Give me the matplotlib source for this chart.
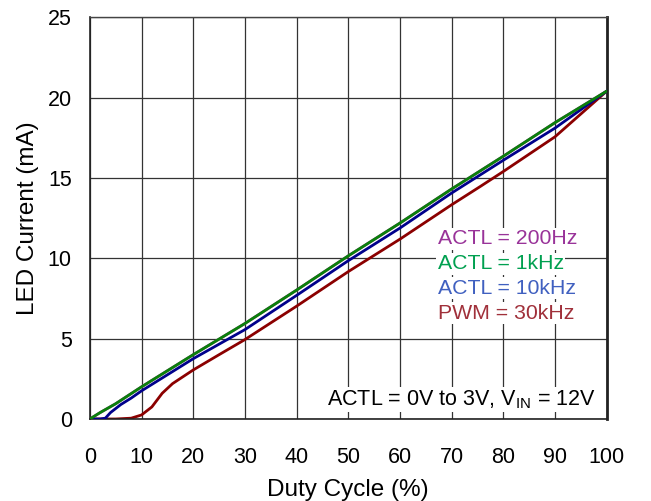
import matplotlib
matplotlib.use("Agg")
import matplotlib.pyplot as plt

duty_g = [0, 2, 5, 10, 15, 20, 30, 40, 50, 60, 70, 80, 90, 100]
i_1k = [0, 0.4, 0.95, 2.0, 3.0, 4.0, 5.94, 8.02, 10.15, 12.19, 14.31, 16.35, 18.44, 20.4]
i_200 = [0, 0.4, 0.95, 2.0, 3.0, 4.0, 5.94, 8.02, 10.15, 12.19, 14.31, 16.35, 18.44, 20.4]

duty_b = [0, 2, 3, 4, 6, 8, 10, 15, 20, 30, 40, 50, 60, 70, 80, 90, 100]
i_10k = [0, 0.0, 0.05, 0.4, 0.9, 1.3, 1.75, 2.75, 3.75, 5.56, 7.69, 9.85, 11.88, 14.06, 16.1, 18.1, 20.4]

duty_r = [0, 5, 8, 10, 12, 14, 16, 20, 25, 30, 40, 50, 60, 70, 75.6, 80, 90, 100]
i_pwm = [0, 0, 0.05, 0.25, 0.75, 1.6, 2.2, 3.05, 4.0, 4.94, 7.02, 9.17, 11.19, 13.33, 14.48, 15.4, 17.56, 20.4]

xticks = [0, 10, 20, 30, 40, 50, 60, 70, 80, 90, 100]
yticks = [0, 5, 10, 15, 20, 25]

plt.rcParams['font.family'] = ['Liberation Sans', 'DejaVu Sans']

fig = plt.figure(figsize=(6.51, 5.01), dpi=100)
ax = fig.add_axes([0.138, 0.1637, 0.794, 0.802])

ax.plot(duty_g, i_200, color='#993399', lw=2.0, zorder=3)
ax.plot(duty_g, i_1k, color='#0a800a', lw=2.0, zorder=4)
ax.plot(duty_b, i_10k, color='#00008b', lw=2.0, zorder=3)
ax.plot(duty_r, i_pwm, color='#8b0000', lw=2.0, zorder=2)

ax.set_xlim(0, 100)
ax.set_ylim(0, 25)
ax.set_xticks(xticks)
ax.set_yticks(yticks)
ax.grid(True, color='#333333', lw=0.9)
ax.tick_params(axis='x', length=0, pad=20, labelsize=15.5)
ax.tick_params(axis='y', length=0, pad=13, labelsize=15.5)
for s in ['left', 'bottom']:
    ax.spines[s].set_color('#222222')
    ax.spines[s].set_linewidth(1.2)
ax.spines['top'].set_color('#444444')
ax.spines['top'].set_linewidth(1.0)
ax.spines['right'].set_color('#222222')
ax.spines['right'].set_linewidth(2.0)

ax.set_xlabel('Duty Cycle (%)', fontsize=17.5, labelpad=8)
ax.set_ylabel('LED Current (mA)', fontsize=17.5, labelpad=6)

bbox = dict(facecolor='white', edgecolor='none', pad=1)
labels = [('ACTL = 200Hz', '#993399'), ('ACTL = 1kHz', '#00a050'),
          ('ACTL = 10kHz', '#4060c0'), ('PWM = 30kHz', '#a0303a')]
for k, (t, c) in enumerate(labels):
    ax.text(67.3, 11.2 - k * 1.54, t, color=c, fontsize=15.3, ha='left', va='center',
            bbox=bbox, zorder=5)

ax.text(97.8, 1.2, r'ACTL = 0V to 3V, V$_{\mathregular{IN}}$ = 12V', fontsize=15.5,
        ha='right', va='center', bbox=bbox, zorder=5)

fig.savefig('out.png', dpi=100)
